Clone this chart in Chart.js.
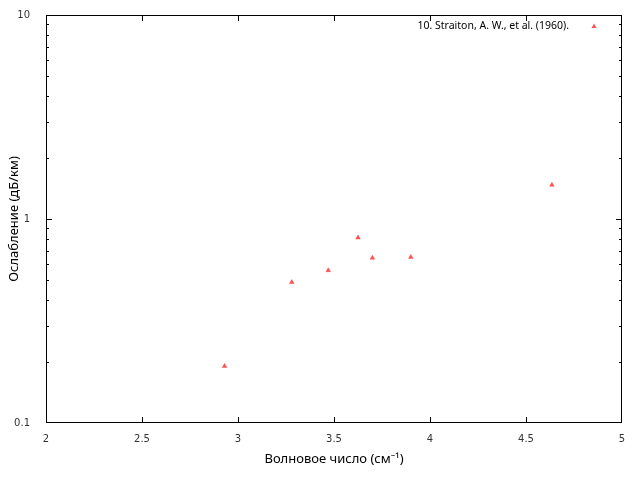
<!doctype html>
<html lang="ru">
<head>
<meta charset="UTF-8" />
<title>Ослабление</title>
<script src="https://cdn.jsdelivr.net/npm/chart.js"></script>
<style>
  html, body { margin: 0; padding: 0; background: #fff; }
  #wrap { width: 640px; height: 480px; }
</style>
</head>
<body>
<div id="wrap"><canvas id="myChart" width="640" height="480"></canvas></div>
<script>
// wave number, cm^-1
const waveNumber = [2.93, 3.28, 3.47, 3.625, 3.70, 3.90, 4.635];
// attenuation, dB/km
const attenuation = [0.19, 0.49, 0.56, 0.81, 0.645, 0.65, 1.47];
const seriesLabel = '10. Straiton, A. W., et al. (1960).';
const xTicks = [2, 2.5, 3, 3.5, 4, 4.5, 5];
const yMajor = [0.1, 1, 10];

const markColor = 'rgba(255, 40, 40, 0.8)';

// all log ticks: 0.1..10 with minors
let yAll = [];
for (let d = 0.1; d < 10; d *= 10) {
    for (let k = 1; k < 10; k++) yAll.push(+(d * k).toFixed(3));
}
yAll.push(10);

/* inward ticks, frame and legend gnuplot-like */
const framePlugin = {
    id: 'frame',
    afterDraw(chart) {
        const c = chart.ctx;
        const a = chart.chartArea;
        const xs = chart.scales.x, ys = chart.scales.y;
        c.save();
        c.strokeStyle = '#000';
        c.lineWidth = 1;
        c.strokeRect(a.left + 0.5, a.top + 0.5, a.right - a.left - 1, a.bottom - a.top - 1);
        c.beginPath();
        xTicks.forEach(v => {
            let px = Math.round(xs.getPixelForValue(v)) + 0.5;
            if (px > a.right - 1) px = a.right - 0.5;
            c.moveTo(px, a.bottom); c.lineTo(px, a.bottom - 6);
            c.moveTo(px, a.top); c.lineTo(px, a.top + 6);
        });
        yAll.forEach(v => {
            let py = Math.round(ys.getPixelForValue(v)) + 0.5;
            if (py > a.bottom - 1) py = a.bottom - 0.5;
            let len = yMajor.includes(v) ? 6 : 3;
            c.moveTo(a.left, py); c.lineTo(a.left + len, py);
            c.moveTo(a.right, py); c.lineTo(a.right - len, py);
        });
        c.stroke();

        // legend
        c.fillStyle = '#000';
        c.font = '10.5px "Noto Sans", sans-serif';
        c.textAlign = 'right';
        c.textBaseline = 'middle';
        c.fillText(seriesLabel, 569, 26);
        c.fillStyle = markColor;
        c.beginPath();
        c.moveTo(594, 23.5); c.lineTo(596.5, 28); c.lineTo(591.5, 28); c.closePath();
        c.fill();
        c.restore();
    }
};

const ctx = document.getElementById('myChart');

new Chart(ctx, {
    type: 'scatter',
    data: {
        datasets: [{
            label: seriesLabel,
            data: waveNumber.map((x, i) => ({ x: x, y: attenuation[i] })),
            pointStyle: 'triangle',
            pointRadius: 2.6,
            pointHoverRadius: 2.6,
            backgroundColor: markColor,
            borderColor: markColor,
            borderWidth: 0.5
        }]
    },
    options: {
        responsive: false,
        animation: false,
        layout: { padding: { top: 15, right: 18, left: 6, bottom: 0 } },
        plugins: {
            legend: { display: false },
            tooltip: { enabled: false }
        },
        scales: {
            x: {
                type: 'linear',
                min: 2, max: 5,
                grid: { display: false },
                border: { display: false },
                afterBuildTicks: s => { s.ticks = xTicks.map(v => ({ value: v })); },
                afterFit: s => { s.height = 57; },
                ticks: {
                    maxRotation: 0,
                    padding: 2,
                    color: '#333',
                    font: { family: 'DejaVu Sans', size: 10 },
                    callback: v => String(v)
                },
                title: {
                    display: true,
                    text: 'Волновое число (см⁻¹)',
                    color: '#000',
                    font: { family: 'Noto Sans', size: 13 },
                    padding: { top: 6, bottom: 13 }
                }
            },
            y: {
                type: 'logarithmic',
                min: 0.1, max: 10,
                grid: { display: false },
                border: { display: false },
                afterBuildTicks: s => { s.ticks = yMajor.map(v => ({ value: v })); },
                afterFit: s => { s.width = 40; },
                ticks: {
                    padding: 8,
                    color: '#333',
                    font: { family: 'DejaVu Sans', size: 10 },
                    callback: v => String(v)
                },
                title: {
                    display: true,
                    text: 'Ослабление (дБ/км)',
                    color: '#000',
                    font: { family: 'Noto Sans', size: 13 },
                    padding: { top: 0, bottom: 0 }
                }
            }
        }
    },
    plugins: [framePlugin]
});
</script>
</body>
</html>
